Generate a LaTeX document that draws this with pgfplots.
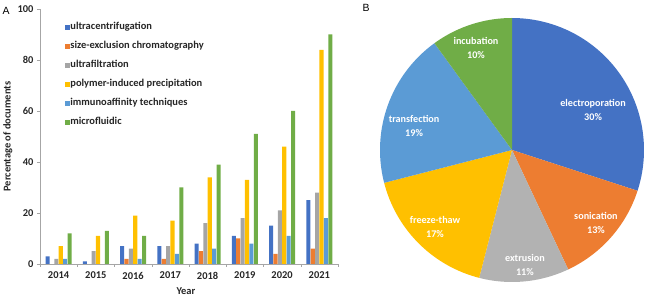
\documentclass[border=0pt]{standalone}
\usepackage{pgfplots}
\pgfplotsset{compat=1.18}
\usepackage{pgfplotstable}
\usepackage{fontspec}
\setmainfont{Carlito}
\newfontfamily\panelfont{Liberation Sans}

% Excel-style palette
\definecolor{cBlue}{HTML}{4472C4}
\definecolor{cOrange}{HTML}{ED7D31}
\definecolor{cGray}{HTML}{A5A5A5}
\definecolor{cYellow}{HTML}{FFC000}
\definecolor{cLight}{HTML}{5B9BD5}
\definecolor{cGreen}{HTML}{70AD47}
\definecolor{axisgray}{HTML}{A6A6A6}

% Share of documents per year (%)
\pgfplotstableread{
x year ucf sec uf pip iat mf
0 2014 3  0  2  7  2  12
1 2015 1  0  5  11 0  13
2 2016 7  2  6  19 2  11
3 2017 7  2  7  17 4  30
4 2018 8  5  16 34 6  39
5 2019 11 10 18 33 8  51
6 2020 15 4  21 46 11 60
7 2021 25 6  28 84 18 90
}\yeardata

\pgfplotsset{
  sqlegend/.style={legend image code/.code={\fill[##1] (0bp,-2.6bp) rectangle (5.2bp,2.6bp);}},
}
\newcommand{\chartfont}{\bfseries\fontsize{10.5}{12}\selectfont}

\begin{document}
\begin{tikzpicture}
\path[use as bounding box] (0bp,0bp) rectangle (646bp,296bp);

% ---------- panel A: grouped bars ----------
% the axis origin (x=0 is the 2014 group, y=0) sits half a group right of the y axis line
\begin{axis}[
  at={(58.6bp,32bp)}, anchor=origin,
  scale only axis, width=298bp, height=255bp,
  xmin=-0.5, xmax=7.5, ymin=0, ymax=100,
  ytick={0,20,...,100},
  xtick={0,...,7},
  xticklabels={2014,2015,2016,2017,2018,2019,2020,2021},
  minor xtick={-0.5,0.5,...,7.5},
  major x tick style={draw=none},
  minor x tick style={axisgray},
  minor tick length=3bp,
  major tick length=3bp,
  y tick style={axisgray},
  tick align=outside, tick pos=left,
  axis x line*=bottom, axis y line*=left,
  axis line style={axisgray, line width=0.8pt},
  x axis line style={-}, y axis line style={-},
  /pgf/number format/assume math mode=true,
  ticklabel style={font=\chartfont, text=black!85},
  xticklabel style={yshift=-1.5bp},
  ylabel={Percentage of documents},
  xlabel={Year},
  label style={font=\chartfont, text=black!85},
  ylabel style={at={(axis description cs:-0.108,0.5)}, anchor=center},
  xlabel style={at={(axis description cs:0.49,-0.106)}, anchor=center},
  ybar=0.3bp, bar width=4.1bp,
  sqlegend,
  legend style={at={(axis description cs:0.074,0.958)}, anchor=north west,
    draw=none, fill=none, row sep=8.6bp,
    font=\chartfont, text=black!85,
    nodes={inner sep=0pt, text height=8bp, text depth=2.4bp}},
  legend cell align=left,
]
\addplot[fill=cBlue, draw=none]   table[x=x, y=ucf] {\yeardata};
\addplot[fill=cOrange, draw=none] table[x=x, y=sec] {\yeardata};
\addplot[fill=cGray, draw=none]   table[x=x, y=uf]  {\yeardata};
\addplot[fill=cYellow, draw=none] table[x=x, y=pip] {\yeardata};
\addplot[fill=cLight, draw=none]  table[x=x, y=iat] {\yeardata};
\addplot[fill=cGreen, draw=none]  table[x=x, y=mf]  {\yeardata};
\legend{ultracentrifugation,size-exclusion chromatography,ultrafiltration,polymer-induced precipitation,immunoaffinity techniques,microfluidic}
\end{axis}

% ---------- panel B: pie of loading methods ----------
% slices run clockwise from 12 o'clock; angles follow from the percentages
\begin{axis}[
  at={(512bp,146bp)}, anchor=origin,
  scale only axis, width=264bp, height=264bp,
  xmin=-1, xmax=1, ymin=-1, ymax=1,
  hide axis, clip=false,
  samples=80,
]
\addplot[fill=cBlue, draw=none, domain={90-3.6*30}:{90}]
  ({cos(x)},{sin(x)}) -- (axis cs:0,0) -- cycle;
\addplot[fill=cOrange, draw=none, domain={90-3.6*(30+13)}:{90-3.6*30}]
  ({cos(x)},{sin(x)}) -- (axis cs:0,0) -- cycle;
\addplot[fill=cGray!85, draw=none, domain={90-3.6*(30+13+11)}:{90-3.6*(30+13)}]
  ({cos(x)},{sin(x)}) -- (axis cs:0,0) -- cycle;
\addplot[fill=cYellow, draw=none, domain={90-3.6*(30+13+11+17)}:{90-3.6*(30+13+11)}]
  ({cos(x)},{sin(x)}) -- (axis cs:0,0) -- cycle;
\addplot[fill=cLight, draw=none, domain={90-3.6*(30+13+11+17+19)}:{90-3.6*(30+13+11+17)}]
  ({cos(x)},{sin(x)}) -- (axis cs:0,0) -- cycle;
\addplot[fill=cGreen, draw=none, domain={90-3.6*(30+13+11+17+19+10)}:{90-3.6*(30+13+11+17+19)}]
  ({cos(x)},{sin(x)}) -- (axis cs:0,0) -- cycle;

\begin{scope}[every node/.style={text=white, align=center,
    font=\bfseries\fontsize{10.2}{13.3}\selectfont}]
\node at (axis cs:0.614,0.303)   {electroporation\\30\%};
\node at (axis cs:0.636,-0.553)  {sonication\\13\%};
\node at (axis cs:0.098,-0.871)  {extrusion\\11\%};
\node at (axis cs:-0.583,-0.583) {freeze-thaw\\17\%};
\node at (axis cs:-0.742,0.182)  {transfection\\19\%};
\node at (axis cs:-0.273,0.773)  {incubation\\10\%};
\end{scope}
\end{axis}

% panel letters
\node[font=\panelfont\fontsize{10.5}{12}\selectfont] at (6bp,285bp) {A};
\node[font=\panelfont\fontsize{10.5}{12}\selectfont] at (366bp,288bp) {B};
\end{tikzpicture}
\end{document}
